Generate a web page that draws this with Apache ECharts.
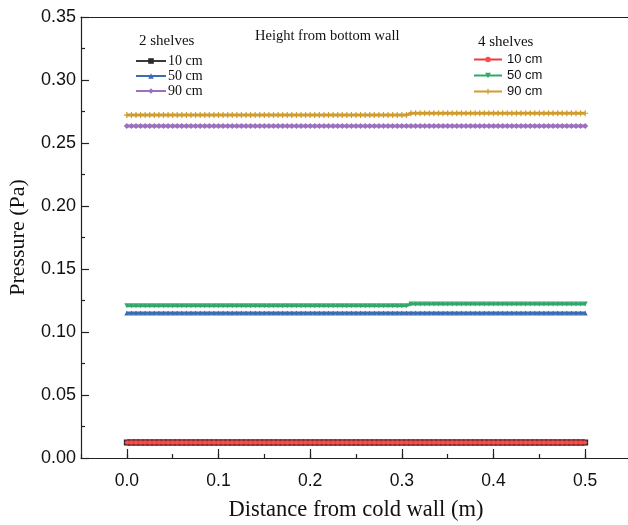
<!DOCTYPE html>
<html>
<head>
<meta charset="utf-8">
<script src="https://cdn.jsdelivr.net/npm/echarts@6/dist/echarts.min.js"></script>
<style>html,body{margin:0;padding:0;background:#fff;overflow:hidden}#c{width:628px;height:525px}</style>
</head>
<body>
<div id="c"></div>
<script>
// x positions (m)
const distance = [
0,0.005,0.01,0.015,0.02,0.025,0.03,0.035,0.04,0.045,
0.05,0.055,0.06,0.065,0.07,0.075,0.08,0.085,0.09,0.095,
0.1,0.105,0.11,0.115,0.12,0.125,0.13,0.135,0.14,0.145,
0.15,0.155,0.16,0.165,0.17,0.175,0.18,0.185,0.19,0.195,
0.2,0.205,0.21,0.215,0.22,0.225,0.23,0.235,0.24,0.245,
0.25,0.255,0.26,0.265,0.27,0.275,0.28,0.285,0.29,0.295,
0.3,0.305,0.31,0.315,0.32,0.325,0.33,0.335,0.34,0.345,
0.35,0.355,0.36,0.365,0.37,0.375,0.38,0.385,0.39,0.395,
0.4,0.405,0.41,0.415,0.42,0.425,0.43,0.435,0.44,0.445,
0.45,0.455,0.46,0.465,0.47,0.475,0.48,0.485,0.49,0.495,
0.5];
// 2 shelves
const shelf2_10cm = [
0.0123,0.0123,0.0123,0.0123,0.0123,0.0123,0.0123,0.0123,0.0123,0.0123,
0.0123,0.0123,0.0123,0.0123,0.0123,0.0123,0.0123,0.0123,0.0123,0.0123,
0.0123,0.0123,0.0123,0.0123,0.0123,0.0123,0.0123,0.0123,0.0123,0.0123,
0.0123,0.0123,0.0123,0.0123,0.0123,0.0123,0.0123,0.0123,0.0123,0.0123,
0.0123,0.0123,0.0123,0.0123,0.0123,0.0123,0.0123,0.0123,0.0123,0.0123,
0.0123,0.0123,0.0123,0.0123,0.0123,0.0123,0.0123,0.0123,0.0123,0.0123,
0.0123,0.0123,0.0123,0.0123,0.0123,0.0123,0.0123,0.0123,0.0123,0.0123,
0.0123,0.0123,0.0123,0.0123,0.0123,0.0123,0.0123,0.0123,0.0123,0.0123,
0.0123,0.0123,0.0123,0.0123,0.0123,0.0123,0.0123,0.0123,0.0123,0.0123,
0.0123,0.0123,0.0123,0.0123,0.0123,0.0123,0.0123,0.0123,0.0123,0.0123,
0.0123];
const shelf2_50cm = [
0.1151,0.1151,0.1151,0.1151,0.1151,0.1151,0.1151,0.1151,0.1151,0.1151,
0.1151,0.1151,0.1151,0.1151,0.1151,0.1151,0.1151,0.1151,0.1151,0.1151,
0.1151,0.1151,0.1151,0.1151,0.1151,0.1151,0.1151,0.1151,0.1151,0.1151,
0.1151,0.1151,0.1151,0.1151,0.1151,0.1151,0.1151,0.1151,0.1151,0.1151,
0.1151,0.1151,0.1151,0.1151,0.1151,0.1151,0.1151,0.1151,0.1151,0.1151,
0.1151,0.1151,0.1151,0.1151,0.1151,0.1151,0.1151,0.1151,0.1151,0.1151,
0.1151,0.1151,0.1151,0.1151,0.1151,0.1151,0.1151,0.1151,0.1151,0.1151,
0.1151,0.1151,0.1151,0.1151,0.1151,0.1151,0.1151,0.1151,0.1151,0.1151,
0.1151,0.1151,0.1151,0.1151,0.1151,0.1151,0.1151,0.1151,0.1151,0.1151,
0.1151,0.1151,0.1151,0.1151,0.1151,0.1151,0.1151,0.1151,0.1151,0.1151,
0.1151];
const shelf2_90cm = [
0.2635,0.2635,0.2635,0.2635,0.2635,0.2635,0.2635,0.2635,0.2635,0.2635,
0.2635,0.2635,0.2635,0.2635,0.2635,0.2635,0.2635,0.2635,0.2635,0.2635,
0.2635,0.2635,0.2635,0.2635,0.2635,0.2635,0.2635,0.2635,0.2635,0.2635,
0.2635,0.2635,0.2635,0.2635,0.2635,0.2635,0.2635,0.2635,0.2635,0.2635,
0.2635,0.2635,0.2635,0.2635,0.2635,0.2635,0.2635,0.2635,0.2635,0.2635,
0.2635,0.2635,0.2635,0.2635,0.2635,0.2635,0.2635,0.2635,0.2635,0.2635,
0.2635,0.2635,0.2635,0.2635,0.2635,0.2635,0.2635,0.2635,0.2635,0.2635,
0.2635,0.2635,0.2635,0.2635,0.2635,0.2635,0.2635,0.2635,0.2635,0.2635,
0.2635,0.2635,0.2635,0.2635,0.2635,0.2635,0.2635,0.2635,0.2635,0.2635,
0.2635,0.2635,0.2635,0.2635,0.2635,0.2635,0.2635,0.2635,0.2635,0.2635,
0.2635];
// 4 shelves
const shelf4_10cm = [
0.0123,0.0123,0.0123,0.0123,0.0123,0.0123,0.0123,0.0123,0.0123,0.0123,
0.0123,0.0123,0.0123,0.0123,0.0123,0.0123,0.0123,0.0123,0.0123,0.0123,
0.0123,0.0123,0.0123,0.0123,0.0123,0.0123,0.0123,0.0123,0.0123,0.0123,
0.0123,0.0123,0.0123,0.0123,0.0123,0.0123,0.0123,0.0123,0.0123,0.0123,
0.0123,0.0123,0.0123,0.0123,0.0123,0.0123,0.0123,0.0123,0.0123,0.0123,
0.0123,0.0123,0.0123,0.0123,0.0123,0.0123,0.0123,0.0123,0.0123,0.0123,
0.0123,0.0123,0.0123,0.0123,0.0123,0.0123,0.0123,0.0123,0.0123,0.0123,
0.0123,0.0123,0.0123,0.0123,0.0123,0.0123,0.0123,0.0123,0.0123,0.0123,
0.0123,0.0123,0.0123,0.0123,0.0123,0.0123,0.0123,0.0123,0.0123,0.0123,
0.0123,0.0123,0.0123,0.0123,0.0123,0.0123,0.0123,0.0123,0.0123,0.0123,
0.0123];
const shelf4_50cm = [
0.1209,0.1209,0.1209,0.1209,0.1209,0.1209,0.1209,0.1209,0.1209,0.1209,
0.1209,0.1209,0.1209,0.1209,0.1209,0.1209,0.1209,0.1209,0.1209,0.1209,
0.1209,0.1209,0.1209,0.1209,0.1209,0.1209,0.1209,0.1209,0.1209,0.1209,
0.1209,0.1209,0.1209,0.1209,0.1209,0.1209,0.1209,0.1209,0.1209,0.1209,
0.1209,0.1209,0.1209,0.1209,0.1209,0.1209,0.1209,0.1209,0.1209,0.1209,
0.1209,0.1209,0.1209,0.1209,0.1209,0.1209,0.1209,0.1209,0.1209,0.1209,
0.1209,0.1209,0.1222,0.1222,0.1222,0.1222,0.1222,0.1222,0.1222,0.1222,
0.1222,0.1222,0.1222,0.1222,0.1222,0.1222,0.1222,0.1222,0.1222,0.1222,
0.1222,0.1222,0.1222,0.1222,0.1222,0.1222,0.1222,0.1222,0.1222,0.1222,
0.1222,0.1222,0.1222,0.1222,0.1222,0.1222,0.1222,0.1222,0.1222,0.1222,
0.1222];
const shelf4_90cm = [
0.2722,0.2722,0.2722,0.2722,0.2722,0.2722,0.2722,0.2722,0.2722,0.2722,
0.2722,0.2722,0.2722,0.2722,0.2722,0.2722,0.2722,0.2722,0.2722,0.2722,
0.2722,0.2722,0.2722,0.2722,0.2722,0.2722,0.2722,0.2722,0.2722,0.2722,
0.2722,0.2722,0.2722,0.2722,0.2722,0.2722,0.2722,0.2722,0.2722,0.2722,
0.2722,0.2722,0.2722,0.2722,0.2722,0.2722,0.2722,0.2722,0.2722,0.2722,
0.2722,0.2722,0.2722,0.2722,0.2722,0.2722,0.2722,0.2722,0.2722,0.2722,
0.2722,0.2722,0.2736,0.2736,0.2736,0.2736,0.2736,0.2736,0.2736,0.2736,
0.2736,0.2736,0.2736,0.2736,0.2736,0.2736,0.2736,0.2736,0.2736,0.2736,
0.2736,0.2736,0.2736,0.2736,0.2736,0.2736,0.2736,0.2736,0.2736,0.2736,
0.2736,0.2736,0.2736,0.2736,0.2736,0.2736,0.2736,0.2736,0.2736,0.2736,
0.2736];
const xMajorTicks = [0, 0.1, 0.2, 0.3, 0.4, 0.5];
const legendLabels = { s2_10: '10 cm', s2_50: '50 cm', s2_90: '90 cm', s4_10: '10 cm', s4_50: '50 cm', s4_90: '90 cm' };

function pts(ys) { return distance.map((x, i) => [x, ys[i]]); }

const chart = echarts.init(document.getElementById('c'), null, { renderer: 'canvas' });
const serif = '"Liberation Serif", "Times New Roman", serif';
const sans = '"Liberation Sans", Arial, sans-serif';
const plusPath = 'path://M4,0h2v4h4v2h-4v4h-2v-4h-4v-2h4z';

chart.setOption({
  animation: false,
  grid: { left: 81, top: 17, width: 550, height: 441, containLabel: false, outerBoundsMode: 'none' },
  xAxis: [{
    type: 'value', min: -0.05, max: 0.55, interval: 0.05,
    name: 'Distance from cold wall (m)', nameLocation: 'middle', nameGap: 41,
    nameTextStyle: { fontFamily: serif, fontSize: 22.5, color: '#111' },
    axisLine: { show: true, onZero: false, lineStyle: { color: '#222', width: 1.2 } },
    axisTick: { show: true, inside: true, length: 4, lineStyle: { color: '#222', width: 1.2 } },
    axisLabel: { color: '#111', fontFamily: sans, fontSize: 17.5, margin: 14,
      formatter: v => { const r = Math.round(v * 10) / 10; return Math.abs(v - r) < 1e-6 && r >= 0 && r <= 0.5 ? r.toFixed(1) : ''; } },
    splitLine: { show: false }
  }, {
    type: 'value', min: -0.05, max: 0.55, interval: 0.05, position: 'bottom',
    axisLine: { show: false },
    axisTick: { show: true, inside: true, length: 9, customValues: xMajorTicks, lineStyle: { color: '#222', width: 1.2 } },
    axisLabel: { show: false },
    splitLine: { show: false }
  }, {
    type: 'value', min: -0.05, max: 0.55, position: 'top',
    axisLine: { show: true, onZero: false, lineStyle: { color: '#222', width: 1.2 } },
    axisTick: { show: false }, axisLabel: { show: false }, splitLine: { show: false }
  }],
  yAxis: [{
    type: 'value', min: 0, max: 0.35, interval: 0.05,
    name: 'Pressure (Pa)', nameLocation: 'middle', nameGap: 52,
    nameTextStyle: { fontFamily: serif, fontSize: 22, color: '#111' },
    axisLine: { show: true, onZero: false, lineStyle: { color: '#222', width: 1.2 } },
    axisTick: { show: true, inside: true, length: 8, lineStyle: { color: '#222', width: 1.2 } },
    minorTick: { show: true, splitNumber: 2, length: 4, lineStyle: { color: '#222', width: 1.2 } },
    axisLabel: { color: '#111', fontFamily: sans, fontSize: 18, margin: 5, formatter: v => v.toFixed(2) },
    splitLine: { show: false }
  }],
  legend: [{
    orient: 'vertical', left: 130, top: 49, itemGap: 1, itemWidth: 30, itemHeight: 7,
    data: ['s2_10', 's2_50', 's2_90'],
    formatter: n => legendLabels[n],
    textStyle: { fontFamily: serif, fontSize: 14, color: '#111', padding: [0, 0, 0, -3] }
  }, {
    orient: 'vertical', left: 468, top: 48, itemGap: 3, itemWidth: 28, itemHeight: 7,
    data: ['s4_10', 's4_50', 's4_90'],
    formatter: n => legendLabels[n],
    textStyle: { fontFamily: sans, fontSize: 13, color: '#111' }
  }],
  graphic: [
    { type: 'text', left: 139, top: 34, style: { text: '2 shelves', font: '15px ' + serif, fill: '#111' } },
    { type: 'text', left: 255, top: 29, style: { text: 'Height from bottom wall', font: '14.5px ' + serif, fill: '#111' } },
    { type: 'text', left: 478, top: 35, style: { text: '4 shelves', font: '15px ' + serif, fill: '#111' } }
  ],
  series: [
    { name: 's2_10', type: 'line', data: pts(shelf2_10cm), symbol: 'rect', symbolSize: 6,
      lineStyle: { color: '#3a3a3a', width: 6 }, itemStyle: { color: '#2a2a2a' }, z: 2 },
    { name: 's4_10', type: 'line', data: pts(shelf4_10cm), symbol: 'circle', symbolSize: 4,
      lineStyle: { color: '#ee3b3b', width: 4 }, itemStyle: { color: '#ff4a4a' }, z: 3 },
    { name: 's2_50', type: 'line', data: pts(shelf2_50cm), symbol: 'triangle', symbolSize: 5,
      lineStyle: { color: '#3b6db5', width: 3 }, itemStyle: { color: '#3b6db5' }, z: 2 },
    { name: 's4_50', type: 'line', data: pts(shelf4_50cm), symbol: 'triangle', symbolRotate: 180, symbolSize: 5,
      lineStyle: { color: '#31a86a', width: 3 }, itemStyle: { color: '#31a86a' }, z: 2 },
    { name: 's2_90', type: 'line', data: pts(shelf2_90cm), symbol: 'diamond', symbolSize: 6,
      lineStyle: { color: '#9d70be', width: 3 }, itemStyle: { color: '#9d70be' }, z: 2 },
    { name: 's4_90', type: 'line', data: pts(shelf4_90cm), symbol: plusPath, symbolSize: 6,
      lineStyle: { color: '#d09c2c', width: 3 }, itemStyle: { color: '#d09c2c' }, z: 2 }
  ]
});
</script>
</body>
</html>
